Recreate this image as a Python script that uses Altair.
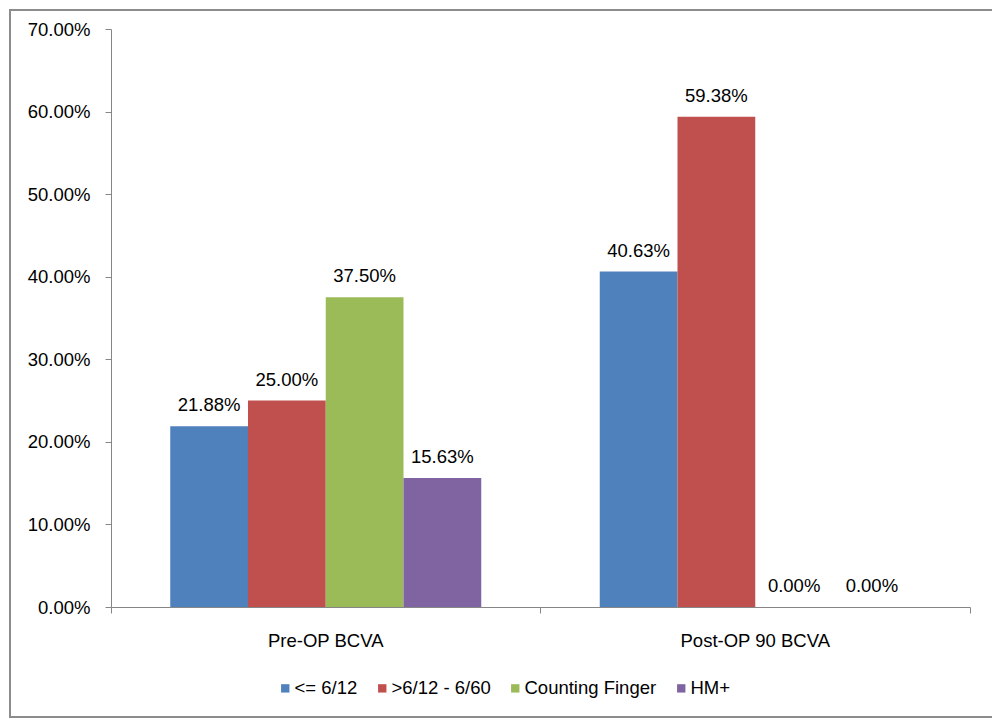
import altair as alt
import pandas as pd

groups = ["Pre-OP BCVA", "Post-OP 90 BCVA"]
series = ["<= 6/12", ">6/12 - 6/60", "Counting Finger", "HM+"]
pre_values = [0.2188, 0.2500, 0.3750, 0.1563]
post_values = [0.4063, 0.5938, 0.0, 0.0]
colors = ["#4F81BD", "#C0504D", "#9BBB59", "#8064A2"]

rows = []
for s, v in zip(series, pre_values):
    rows.append({"group": groups[0], "series": s, "value": v})
for s, v in zip(series, post_values):
    rows.append({"group": groups[1], "series": s, "value": v})
df = pd.DataFrame(rows)

FONT = "Liberation Sans"
FS = 18.5
W, H = 859, 578

x_enc = alt.X(
    "group:N",
    sort=groups,
    title=None,
    scale=alt.Scale(paddingInner=0, paddingOuter=0),
    axis=alt.Axis(
        labelAngle=0,
        labelFontSize=FS,
        labelFont=FONT,
        labelColor="#000000",
        labelPadding=18,
        tickSize=6,
        tickColor="#868686",
        domainColor="#868686",
        bandPosition=1,
        tickExtra=True,
        grid=False,
    ),
)
xoff_enc = alt.XOffset(
    "series:N",
    sort=series,
    scale=alt.Scale(paddingInner=0, paddingOuter=0.762),
)
y_enc = alt.Y(
    "value:Q",
    title=None,
    scale=alt.Scale(domain=[0, 0.7], nice=False),
    axis=alt.Axis(
        format=".2%",
        values=[0, 0.1, 0.2, 0.3, 0.4, 0.5, 0.6, 0.7],
        labelFontSize=FS,
        labelFont=FONT,
        labelColor="#000000",
        labelPadding=15,
        tickSize=6,
        tickColor="#868686",
        domainColor="#868686",
        grid=False,
    ),
)

bars = alt.Chart(df).mark_bar(strokeWidth=0).encode(
    x=x_enc,
    xOffset=xoff_enc,
    y=y_enc,
    color=alt.Color(
        "series:N",
        sort=series,
        scale=alt.Scale(domain=series, range=colors),
        legend=alt.Legend(
            title=None,
            orient="none",
            direction="horizontal",
            legendX=165,
            legendY=650,
            symbolType="square",
            symbolSize=70,
            symbolStrokeWidth=0,
            labelFontSize=FS,
            labelFont=FONT,
            labelColor="#000000",
            labelOffset=0,
            columnPadding=15,
        ),
    ),
)

labels = alt.Chart(df).mark_text(
    font=FONT, fontSize=FS, color="#000000", dy=-15, baseline="alphabetic"
).encode(
    x=alt.X("group:N", sort=groups),
    xOffset=alt.XOffset("series:N", sort=series),
    y=alt.Y("value:Q"),
    text=alt.Text("value:Q", format=".2%"),
)

frame = alt.Chart(pd.DataFrame({"f": [0]})).mark_rect(
    fill=None, stroke="#8c8c8c", strokeWidth=2
).encode(
    x=alt.value(-101),
    x2=alt.value(882),
    y=alt.value(-19),
    y2=alt.value(688),
)

chart = (
    alt.layer(frame, bars, labels)
    .properties(
        width=W,
        height=H,
        autosize=alt.AutoSizeParams(type="none"),
        padding={"left": 103, "top": 21, "right": 22, "bottom": 113},
        background="#ffffff",
    )
    .configure_view(stroke="transparent", strokeWidth=0)
)

chart.save("out.html", embed_options={"renderer": "svg", "actions": False})
